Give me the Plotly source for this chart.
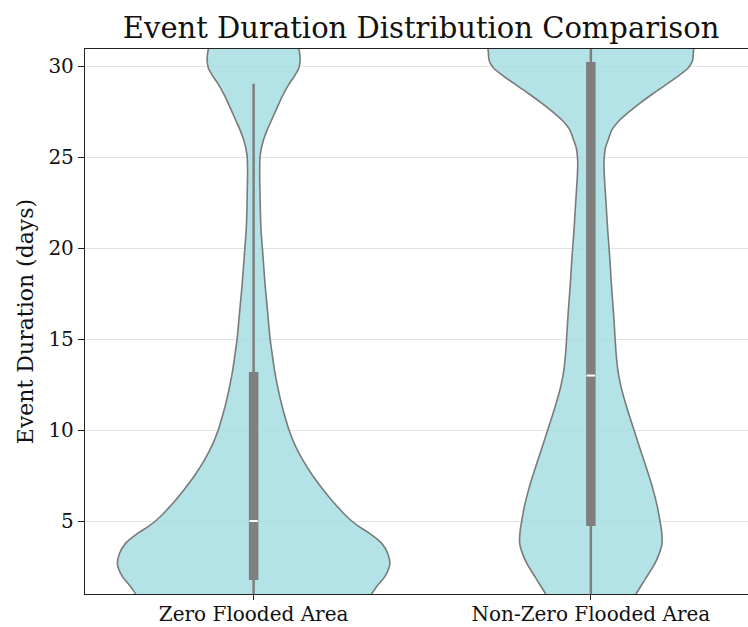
import plotly.graph_objects as go

categories = ["Zero Flooded Area", "Non-Zero Flooded Area"]

# Kernel-density outline: duration (days) -> half-width (category units)
zero_duration = [0.5, 0.99, 1.4, 1.94, 2.4, 2.67, 3.2, 3.77, 4.32, 4.7, 5.0, 5.4, 5.8, 6.2,
                 6.7, 7.5, 8.35, 9.2, 10.0, 10.8, 11.65, 12.5, 13.3, 14.2, 15.0, 16.0, 17.0,
                 18.0, 19.0, 20.0, 21.0, 22.0, 23.0, 24.0, 25.0, 25.5, 26.0, 26.5, 27.0, 27.5,
                 28.0, 28.5, 29.0, 29.5, 29.9, 30.4, 31.0, 31.5]
zero_halfwidth = [0.332, 0.350, 0.365, 0.389, 0.401, 0.404, 0.398, 0.380, 0.344, 0.312, 0.291,
                  0.268, 0.248, 0.229, 0.207, 0.175, 0.146, 0.122, 0.105, 0.092, 0.080, 0.070,
                  0.062, 0.055, 0.049, 0.044, 0.039, 0.034, 0.030, 0.026, 0.022, 0.020, 0.019,
                  0.018, 0.019, 0.023, 0.030, 0.040, 0.052, 0.064, 0.076, 0.089, 0.104, 0.122,
                  0.134, 0.138, 0.134, 0.128]

nonzero_duration = [0.5, 0.99, 1.94, 2.67, 3.22, 3.77, 4.4, 5.0, 5.8, 6.7, 7.5, 8.35, 9.2,
                    10.0, 10.8, 11.65, 12.5, 13.3, 14.2, 15.0, 16.5, 18.0, 19.5, 21.0, 22.5,
                    24.0, 24.8, 25.5, 26.0, 26.5, 27.0, 27.5, 28.0, 28.5, 29.0, 29.5, 29.9,
                    30.3, 30.8, 31.5]
nonzero_halfwidth = [0.119, 0.134, 0.166, 0.190, 0.203, 0.211, 0.210, 0.205, 0.197, 0.185,
                     0.172, 0.157, 0.142, 0.128, 0.114, 0.100, 0.088, 0.080, 0.075, 0.072,
                     0.067, 0.061, 0.056, 0.050, 0.045, 0.040, 0.039, 0.043, 0.052, 0.062,
                     0.083, 0.113, 0.147, 0.184, 0.223, 0.261, 0.288, 0.301, 0.304, 0.303]

# Inner box statistics
q1 = [1.75, 4.72]
median = [5.0, 13.0]
q3 = [13.2, 30.25]
whisker_low = [0.5, 0.5]
whisker_high = [29.05, 31.5]

FILL = "rgba(160,220,224,0.8)"
EDGE = "#7a7a7a"
BOXC = "#7f7f7f"
FONT = "DejaVu Serif"
TXT = "#111111"

fig = go.Figure()

profiles = [(zero_duration, zero_halfwidth), (nonzero_duration, nonzero_halfwidth)]
for i, (dur, hw) in enumerate(profiles):
    xs = [i - w for w in hw] + [i + w for w in reversed(hw)]
    ys = list(dur) + list(reversed(dur))
    xs.append(xs[0]); ys.append(ys[0])
    fig.add_trace(go.Scatter(x=xs, y=ys, mode="lines", fill="toself", fillcolor=FILL,
                             line=dict(color=EDGE, width=1.6, shape="spline", smoothing=0.8),
                             hoverinfo="skip", showlegend=False))

for i in range(len(categories)):
    fig.add_trace(go.Scatter(x=[i, i], y=[whisker_low[i], whisker_high[i]], mode="lines",
                             line=dict(color=BOXC, width=2.5), showlegend=False, hoverinfo="skip"))
    fig.add_trace(go.Scatter(x=[i, i], y=[q1[i], q3[i]], mode="lines",
                             line=dict(color=BOXC, width=9.5), showlegend=False, hoverinfo="skip"))

fig.add_trace(go.Scatter(x=[0, 1], y=median, mode="markers",
                         marker=dict(symbol="line-ew", size=6, line=dict(color="white", width=2)),
                         showlegend=False, hoverinfo="skip"))

fig.update_layout(
    width=748, height=627,
    margin=dict(l=85, r=0, t=49, b=33),
    paper_bgcolor="white", plot_bgcolor="white",
    font=dict(family=FONT, color=TXT),
    title=dict(text="Event Duration Distribution Comparison", x=0.563, xanchor="center",
               y=0.955, yanchor="middle", font=dict(size=29, family=FONT, color=TXT)),
)
fig.update_xaxes(range=[-0.5, 1.466], tickmode="array", tickvals=[0, 1], ticktext=categories,
                 automargin=False, ticklabelstandoff=-3,
                 showgrid=False, zeroline=False, showline=True, linecolor="#222222", linewidth=1.3,
                 mirror=True, ticks="outside", ticklen=5, tickcolor="#222222", tickwidth=1.2,
                 tickfont=dict(size=20, family=FONT, color=TXT))
fig.update_yaxes(range=[0.985, 30.96], tickmode="array", tickvals=[5, 10, 15, 20, 25, 30],
                 automargin=False,
                 showgrid=True, gridcolor="#e3e3e3", gridwidth=1, zeroline=False,
                 showline=True, linecolor="#222222", linewidth=1.3,
                 ticks="outside", ticklen=6, tickcolor="#222222", tickwidth=1.2,
                 tickfont=dict(size=20, family=FONT, color=TXT),
                 title=dict(text="Event Duration (days)", font=dict(size=22, family=FONT, color=TXT),
                            standoff=8))

fig.write_html("out.html", config={"displayModeBar": False},
               post_script="document.body.style.margin='0px';")
